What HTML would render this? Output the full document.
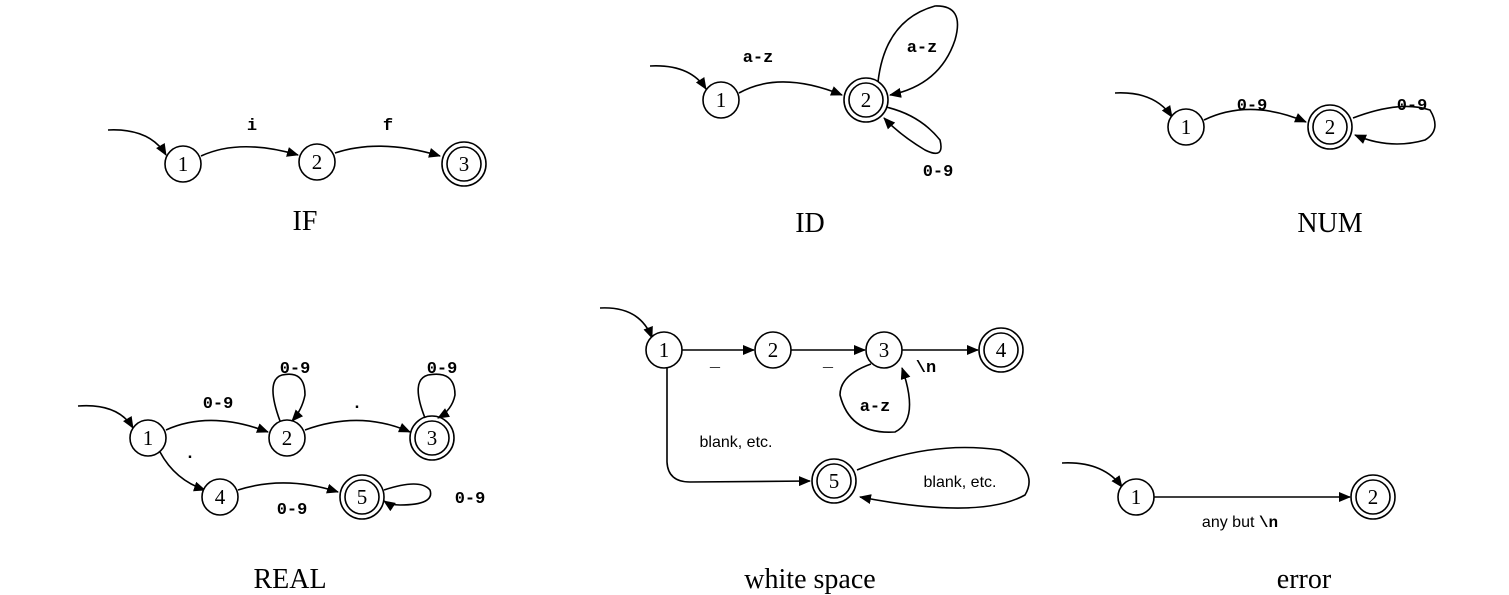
<!DOCTYPE html>
<html><head><style>body{margin:0;background:#fff}svg{display:block}</style></head><body>
<svg width="1509" height="595" viewBox="0 0 1509 595" xmlns="http://www.w3.org/2000/svg">
<defs><marker id="a" markerWidth="12" markerHeight="10" refX="11" refY="5" orient="auto" markerUnits="userSpaceOnUse"><path d="M0,0 L12,5 L0,10 Z" fill="#000"/></marker></defs>
<style>
.n{fill:#fff;stroke:#000;stroke-width:1.6}
.e{fill:none;stroke:#000;stroke-width:1.6;marker-end:url(#a)}
.d{font-family:"Liberation Serif",serif;font-size:21px;text-anchor:middle;dominant-baseline:central}
.m{font-family:"Liberation Mono",monospace;font-weight:bold;font-size:17px;text-anchor:middle}
.s{font-family:"Liberation Sans",sans-serif;font-size:16px;text-anchor:middle}
.t{font-family:"Liberation Serif",serif;font-size:28px;text-anchor:middle}
</style>
<!-- IF -->
<path class="e" d="M108,130 Q150,128 166,155"/>
<circle class="n" cx="183" cy="164" r="18"/><text class="d" x="183" y="164">1</text>
<path class="e" d="M201,156 Q240,138 298,155"/>
<circle class="n" cx="317" cy="162" r="18"/><text class="d" x="317" y="162">2</text>
<path class="e" d="M335,153 Q380,138 440,156"/>
<circle class="n" cx="464" cy="164" r="22"/><circle class="n" cx="464" cy="164" r="17"/><text class="d" x="464" y="164">3</text>
<text class="m" x="252" y="130">i</text><text class="m" x="388" y="130">f</text>
<text class="t" x="305" y="230">IF</text>
<!-- ID -->
<path class="e" d="M650,66 Q690,64 706,89"/>
<circle class="n" cx="721" cy="100" r="18"/><text class="d" x="721" y="100">1</text>
<path class="e" d="M739,93 Q780,70 842,95"/>
<circle class="n" cx="866" cy="100" r="22"/><circle class="n" cx="866" cy="100" r="17"/><text class="d" x="866" y="100">2</text>
<text class="m" x="758" y="62">a-z</text>
<path class="e" d="M878,82 Q885,20 935,6 Q965,5 955,40 Q940,85 890,95"/>
<text class="m" x="922" y="52">a-z</text>
<path class="e" d="M886,107 Q920,115 940,140 Q945,160 925,150 Q900,135 884,118"/>
<text class="m" x="938" y="176">0-9</text>
<text class="t" x="810" y="232">ID</text>
<!-- NUM -->
<path class="e" d="M1115,93 Q1155,91 1172,117"/>
<circle class="n" cx="1186" cy="127" r="18"/><text class="d" x="1186" y="127">1</text>
<path class="e" d="M1204,120 Q1250,98 1306,122"/>
<circle class="n" cx="1330" cy="127" r="22"/><circle class="n" cx="1330" cy="127" r="17"/><text class="d" x="1330" y="127">2</text>
<path class="e" d="M1353,118 Q1400,100 1430,110 Q1442,130 1425,140 Q1390,150 1355,135"/>
<text class="m" x="1252" y="110">0-9</text><text class="m" x="1412" y="110">0-9</text>
<text class="t" x="1330" y="232">NUM</text>
<!-- REAL -->
<path class="e" d="M78,406 Q118,403 133,428"/>
<circle class="n" cx="148" cy="438" r="18"/><text class="d" x="148" y="438">1</text>
<path class="e" d="M166,430 Q210,410 268,432"/>
<circle class="n" cx="287" cy="438" r="18"/><text class="d" x="287" y="438">2</text>
<path class="e" d="M305,430 Q360,410 410,432"/>
<circle class="n" cx="432" cy="438" r="22"/><circle class="n" cx="432" cy="438" r="17"/><text class="d" x="432" y="438">3</text>
<path class="e" d="M280,421 Q265,380 282,375 Q305,370 305,395 Q302,410 292,421"/>
<path class="e" d="M425,418 Q410,380 428,375 Q455,370 455,395 Q452,410 438,418"/>
<text class="m" x="295" y="373">0-9</text><text class="m" x="442" y="373">0-9</text>
<text class="m" x="218" y="408">0-9</text><text class="m" x="357" y="408">.</text>
<path class="e" d="M160,452 Q175,480 205,490"/>
<text class="m" x="190" y="458">.</text>
<circle class="n" cx="220" cy="497" r="18"/><text class="d" x="220" y="497">4</text>
<path class="e" d="M238,490 Q285,475 338,492"/>
<circle class="n" cx="362" cy="497" r="22"/><circle class="n" cx="362" cy="497" r="17"/><text class="d" x="362" y="497">5</text>
<path class="e" d="M384,490 Q420,478 430,490 Q435,505 400,505 Q390,505 384,501"/>
<text class="m" x="292" y="514">0-9</text><text class="m" x="470" y="503">0-9</text>
<text class="t" x="290" y="588">REAL</text>
<!-- white space -->
<path class="e" d="M600,308 Q640,306 652,338"/>
<circle class="n" cx="664" cy="350" r="18"/><text class="d" x="664" y="350">1</text>
<path class="e" d="M682,350 L754,350"/>
<circle class="n" cx="773" cy="350" r="18"/><text class="d" x="773" y="350">2</text>
<path class="e" d="M791,350 L865,350"/>
<circle class="n" cx="884" cy="350" r="18"/><text class="d" x="884" y="350">3</text>
<path class="e" d="M902,350 L978,350"/>
<circle class="n" cx="1001" cy="350" r="22"/><circle class="n" cx="1001" cy="350" r="17"/><text class="d" x="1001" y="350">4</text>
<text class="m" x="715" y="366">_</text><text class="m" x="828" y="366">_</text><text class="m" x="926" y="372">\n</text>
<path class="e" d="M871,364 Q840,375 840,395 Q850,435 895,432 Q920,420 902,368"/>
<text class="m" x="875" y="411">a-z</text>
<path class="e" d="M667,368 L667,462 Q668,482 690,482 L810,481"/>
<text class="s" x="736" y="447">blank, etc.</text>
<circle class="n" cx="834" cy="481" r="22"/><circle class="n" cx="834" cy="481" r="17"/><text class="d" x="834" y="481">5</text>
<path class="e" d="M857,470 Q930,440 1000,450 Q1040,470 1025,495 Q980,520 860,497"/>
<text class="s" x="960" y="487">blank, etc.</text>
<text class="t" x="810" y="588">white space</text>
<!-- error -->
<path class="e" d="M1062,463 Q1103,461 1122,487"/>
<circle class="n" cx="1136" cy="497" r="18"/><text class="d" x="1136" y="497">1</text>
<path class="e" d="M1154,497 L1350,497"/>
<circle class="n" cx="1373" cy="497" r="22"/><circle class="n" cx="1373" cy="497" r="17"/><text class="d" x="1373" y="497">2</text>
<text class="s" x="1240" y="527">any but <tspan style="font-family:'Liberation Mono',monospace;font-weight:bold">\n</tspan></text>
<text class="t" x="1304" y="588">error</text>
</svg>
</body></html>
